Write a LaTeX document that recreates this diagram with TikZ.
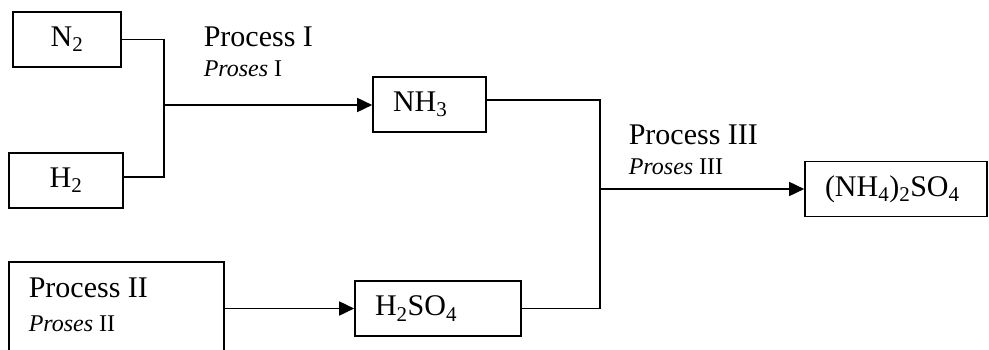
\documentclass[tikz,border=0pt]{standalone}
\usepackage{fontspec}
\setmainfont{Liberation Serif}
\usepackage{tikz}
\usetikzlibrary{arrows.meta}

\begin{document}
\begin{tikzpicture}[x=1pt, y=-1pt, line width=1.6pt,
  every node/.style={font=\fontsize{30}{32}\selectfont, inner sep=0pt},
  small/.style={font=\fontsize{24}{26}\selectfont},
  box/.style={draw, minimum height=55pt},
  chem/.style={box, align=left, inner xsep=20pt},
  arr/.style={-{Triangle[length=15pt, width=14pt]}}]
\useasboundingbox (0,0) rectangle (989,350);
\clip (0,0) rectangle (989,350);
\node[box, minimum width=108pt] (n2) at (67,39.5) {N\textsubscript{2}};
\node[box, minimum width=114pt] (h2) at (66,180.5) {H\textsubscript{2}};
\node[chem, text width=73pt] (nh3) at (429.5,104.5) {NH\textsubscript{3}};
\node[chem, text width=126pt] (h2so4) at (438,308.5) {H\textsubscript{2}SO\textsubscript{4}};
\node[chem, text width=142pt] (prod) at (896,189) {(NH\textsubscript{4})\textsubscript{2}SO\textsubscript{4}};
\node[box, minimum width=215pt, minimum height=140pt] (proc2) at (116.5,332) {};
\node[anchor=base west] (p1) at (203,47) {Process I};
\node[small, anchor=base west] (p1b) at (203,77) {\textit{Proses} I};
\node[anchor=base west] (p2) at (28,298) {Process II};
\node[small, anchor=base west] (p2b) at (28,331) {\textit{Proses} II};
\node[anchor=base west] (p3) at (628,145) {Process III};
\node[small, anchor=base west] (p3b) at (628,175) {\textit{Proses} III};
\coordinate (j1) at (164,105);
\coordinate (j2) at (600,189);
\draw (n2.east) -| (j1); \draw ([yshift=3.5pt]h2.east) -| (j1); \draw[arr] (j1) -- (j1 -| nh3.west);
\draw ([yshift=4.5pt]nh3.east) -| (j2); \draw (h2so4.east) -| (j2); \draw[arr] (j2) -- (prod.west);
\draw[arr] (proc2.east |- h2so4) -- (h2so4.west);
\end{tikzpicture}
\end{document}
